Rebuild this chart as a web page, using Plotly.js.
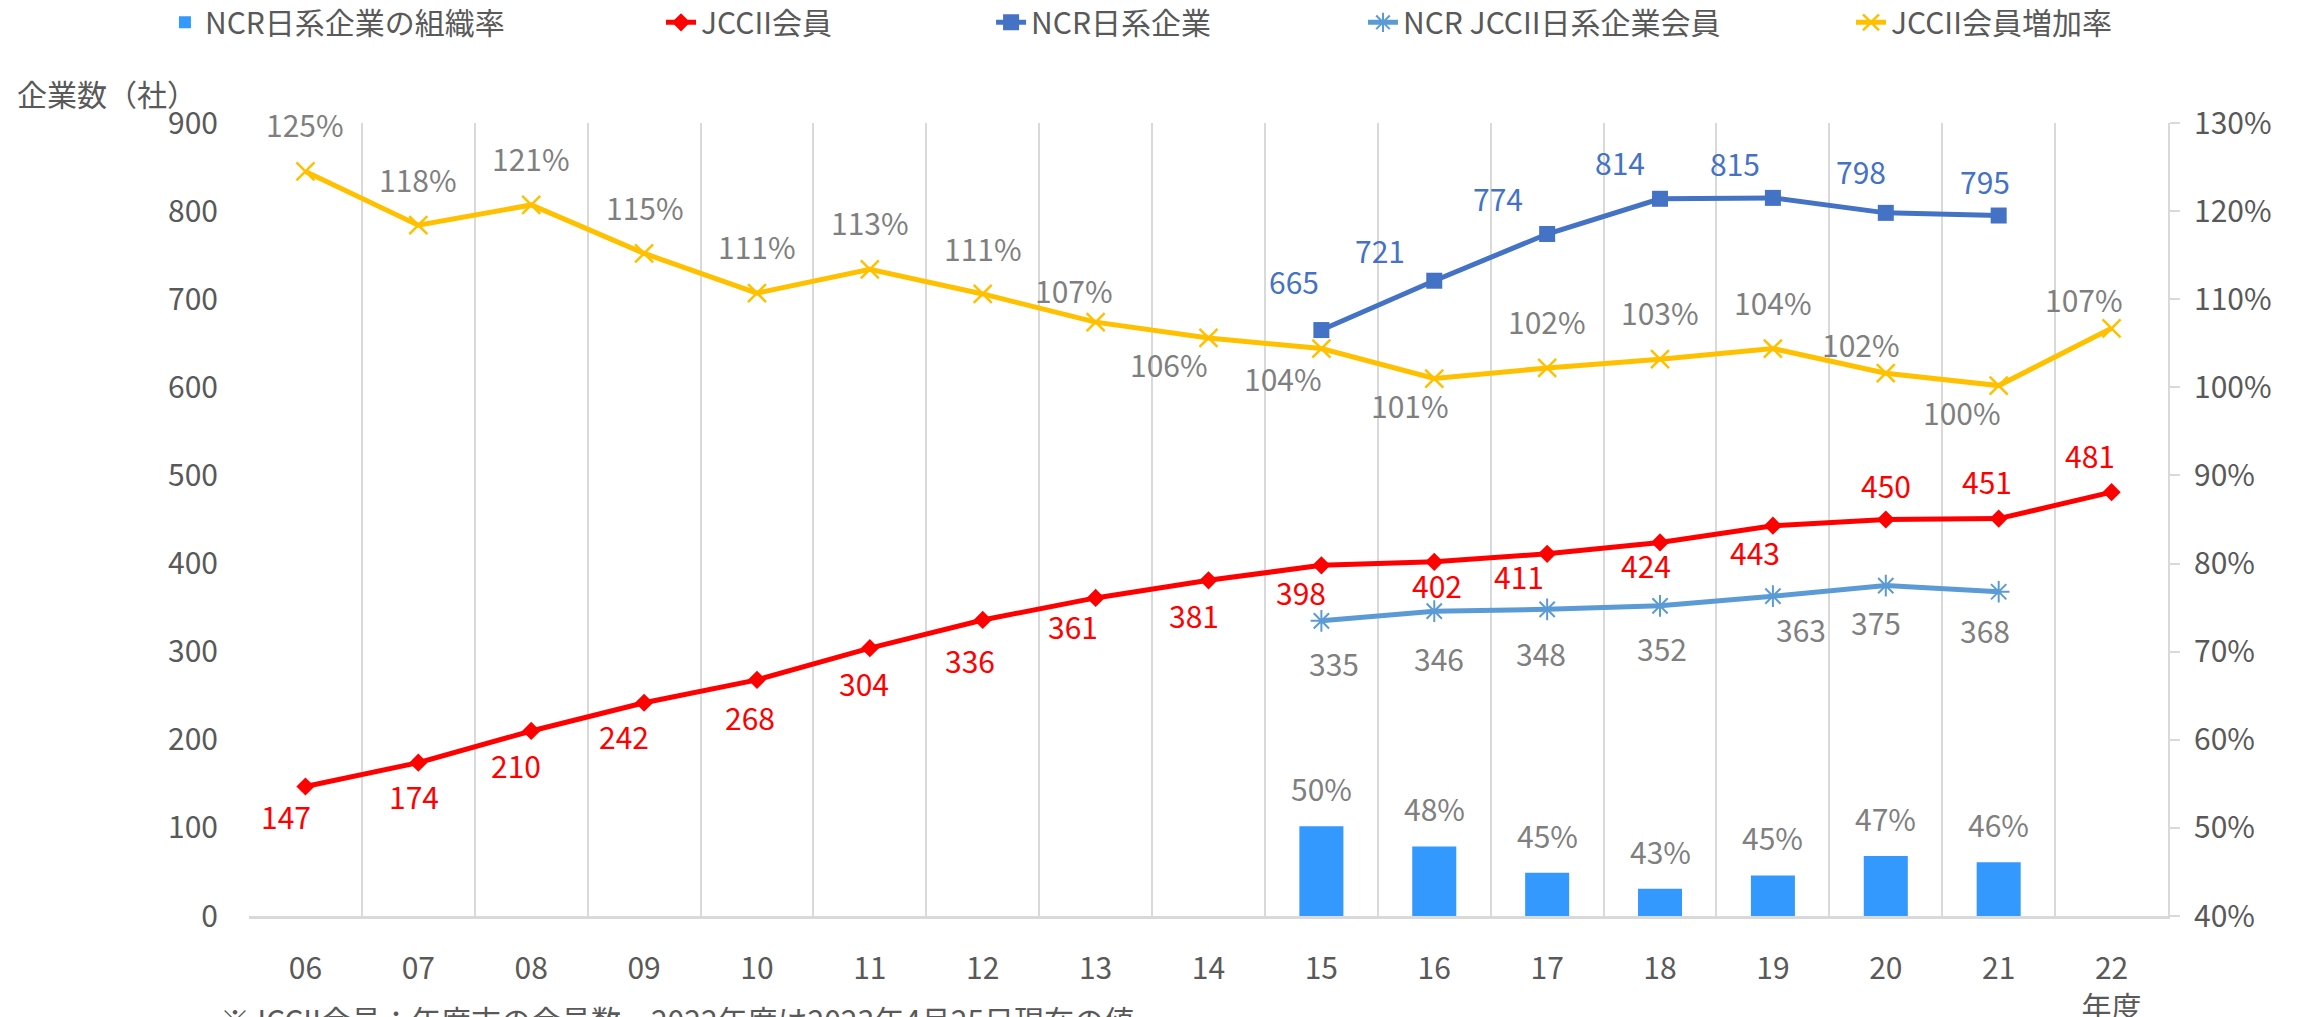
<!DOCTYPE html>
<html>
<head>
<meta charset="utf-8">
<script src="https://cdn.plot.ly/plotly-3.0.1.min.js"></script>
<style>html,body{margin:0;padding:0;background:#fff;}#chart{width:2305px;height:1017px;}</style>
</head>
<body>
<div id="chart"></div>
<script>
// ---------------- DATA ----------------
const years = ['06','07','08','09','10','11','12','13','14','15','16','17','18','19','20','21','22'];
const yearTickText = ['06','07','08','09','10','11','12','13','14','15','16','17','18','19','20','21','22<br>年度'];
const jcciiMembers = [147,174,210,242,268,304,336,361,381,398,402,411,424,443,450,451,481];
const ncrJapaneseFirms = [null,null,null,null,null,null,null,null,null,665,721,774,814,815,798,795,null];
const ncrJcciiMembers = [null,null,null,null,null,null,null,null,null,335,346,348,352,363,375,368,null];
const orgRate = [null,null,null,null,null,null,null,null,null,0.502,0.479,0.449,0.431,0.446,0.468,0.461,null];
const growthRate = [1.245,1.184,1.207,1.152,1.107,1.134,1.106,1.074,1.056,1.044,1.010,1.022,1.032,1.044,1.016,1.002,1.067];
const seriesNames = ['NCR日系企業の組織率','JCCII会員','NCR日系企業','NCR JCCII日系企業会員','JCCII会員増加率'];
const leftAxisTitle = '企業数（社）';
const noteText = '※JCCII会員：年度末の会員数。2022年度は2023年4月25日現在の値';

// ---------------- STYLE ----------------
const FONT = '"Noto Sans CJK JP", "Noto Sans", sans-serif';
const FS = 30;
const GRAY = '#595959';
const LGRAY = '#7F7F7F';
const C_BAR = '#3399FF', C_RED = '#FF0000', C_BLUE = '#4472C4', C_LBLUE = '#5B9BD5', C_YEL = '#FFC000';

// label offsets in pixels [dx, dy] (dy positive = downward)
const offRed = [[-19,30],[-4,33],[-15,34],[-20,33],[-7,37],[-6,35],[-13,40],[-23,28],[-15,35],[-20,27],[3,23],[-28,22],[-14,23],[-18,26],[0,-35],[-12,-38],[-22,-37]];
const offBlue = {9:[-27,-49],10:[-54,-31],11:[-49,-36],12:[-40,-37],13:[-38,-35],14:[-25,-42],15:[-14,-35]};
const offAst = {9:[13,42],10:[5,47],11:[-6,44],12:[2,42],13:[28,33],14:[-10,36],15:[-14,38]};
const offYel = [[0,-47],[0,-46],[0,-47],[1,-46],[0,-47],[0,-47],[0,-46],[-22,-32],[-40,26],[-38,29],[-24,26],[0,-47],[0,-47],[0,-47],[-25,-29],[-37,26],[-28,-29]];
const barLabelShift = 38;

const pct = v => Math.round(v * 100) + '%';

const traces = [
  {type:'bar', name:seriesNames[0], x:years, y:orgRate, yaxis:'y2', marker:{color:C_BAR}, legend:'legend', hoverinfo:'skip'},
  {type:'scatter', mode:'lines+markers', name:seriesNames[1], x:years, y:jcciiMembers,
   line:{color:C_RED, width:5}, marker:{symbol:'diamond', size:14, color:C_RED}, legend:'legend2'},
  {type:'scatter', mode:'lines+markers', name:seriesNames[2], x:years, y:ncrJapaneseFirms,
   line:{color:C_BLUE, width:5}, marker:{symbol:'square', size:16, color:C_BLUE}, legend:'legend3'},
  {type:'scatter', mode:'lines+markers', name:seriesNames[3], x:years, y:ncrJcciiMembers,
   line:{color:C_LBLUE, width:5}, marker:{symbol:'asterisk-open', size:18, color:C_LBLUE, line:{width:2, color:C_LBLUE}}, legend:'legend4'},
  {type:'scatter', mode:'lines+markers', name:seriesNames[4], x:years, y:growthRate, yaxis:'y2',
   line:{color:C_YEL, width:5}, marker:{symbol:'x-thin-open', size:18, color:C_YEL, line:{width:2.5, color:C_YEL}}, legend:'legend5'}
];

const annotations = [];
// x given as the category index on the category axis
function addLabel(i, y, yref, text, color, dx, dy) {
  annotations.push({x:i, y:y, xref:'x', yref:yref, text:text, showarrow:false,
    xanchor:'center', yanchor:'middle', xshift:dx, yshift:-dy,
    font:{family:FONT, size:FS, color:color}});
}
years.forEach((yr, i) => {
  addLabel(i, jcciiMembers[i], 'y', String(jcciiMembers[i]), C_RED, offRed[i][0], offRed[i][1]);
  addLabel(i, growthRate[i], 'y2', pct(growthRate[i]), LGRAY, offYel[i][0], offYel[i][1]);
  if (ncrJapaneseFirms[i] !== null) addLabel(i, ncrJapaneseFirms[i], 'y', String(ncrJapaneseFirms[i]), C_BLUE, offBlue[i][0], offBlue[i][1]);
  if (ncrJcciiMembers[i] !== null) addLabel(i, ncrJcciiMembers[i], 'y', String(ncrJcciiMembers[i]), LGRAY, offAst[i][0], offAst[i][1]);
  if (orgRate[i] !== null) addLabel(i, orgRate[i], 'y2', pct(orgRate[i]), LGRAY, 0, -barLabelShift);
});
annotations.push({xref:'paper', yref:'paper', x:-0.122, y:1.038, xanchor:'left', yanchor:'middle',
  text:leftAxisTitle, showarrow:false, font:{family:FONT, size:FS, color:GRAY}});
annotations.push({xref:'paper', yref:'paper', x:-0.016, y:-0.099, xanchor:'left', yanchor:'top',
  text:noteText, showarrow:false, font:{family:FONT, size:FS, color:GRAY}});

function legendAt(xp) {
  return {x:xp, y:1.127, xanchor:'left', yanchor:'middle', orientation:'h', bgcolor:'rgba(0,0,0,0)',
    itemwidth:30, font:{family:FONT, size:FS, color:GRAY}};
}

const layout = {
  width:2305, height:1017,
  margin:{l:249, r:137, t:123, b:101, autoexpand:false},
  paper_bgcolor:'#ffffff', plot_bgcolor:'#ffffff',
  font:{family:FONT, size:FS, color:GRAY},
  showlegend:true,
  barmode:'overlay', bargap:0.61,
  xaxis:{type:'category', tickmode:'array', tickvals:years, ticktext:yearTickText,
    range:[-0.5,16.5], tickson:'boundaries', showgrid:true, gridcolor:'#D9D9D9', gridwidth:2,
    ticks:'', showline:true, linecolor:'#D9D9D9', linewidth:3, zeroline:false,
    ticklabelstandoff:24, tickfont:{family:FONT, size:FS, color:GRAY}, automargin:false},
  yaxis:{range:[0,900], dtick:100, tick0:0, showgrid:false, zeroline:false, ticks:'', showline:false,
    ticklabelstandoff:30, tickfont:{family:FONT, size:FS, color:GRAY}, automargin:false},
  yaxis2:{overlaying:'y', side:'right', range:[0.4,1.3], dtick:0.1, tick0:0.4, tickformat:'.0%',
    showgrid:false, zeroline:false, showline:true, linecolor:'#D9D9D9', linewidth:2,
    ticks:'outside', ticklen:10, tickcolor:'#D9D9D9', tickwidth:2, ticklabelstandoff:8,
    tickfont:{family:FONT, size:FS, color:GRAY}, automargin:false},
  legend: legendAt(-0.0438),
  legend2: legendAt(0.2147),
  legend3: legendAt(0.3867),
  legend4: legendAt(0.5805),
  legend5: legendAt(0.8348),
  annotations: annotations
};

Plotly.newPlot('chart', traces, layout, {displayModeBar:false, staticPlot:true});
</script>
</body>
</html>
